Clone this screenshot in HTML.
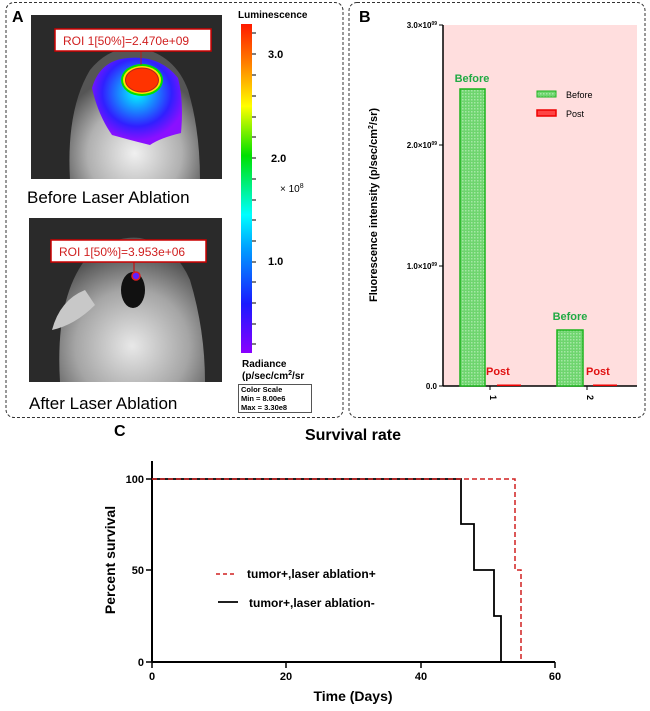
<!DOCTYPE html>
<html><head><style>body{margin:0;background:#fff}svg{display:block}text{font-family:"Liberation Sans",Arial,sans-serif}</style></head><body>
<svg width="650" height="711" viewBox="0 0 650 711" xmlns="http://www.w3.org/2000/svg">
<defs>
<linearGradient id="cb" x1="0" y1="1" x2="0" y2="0">
<stop offset="0" stop-color="#8a00ff"/><stop offset="0.15" stop-color="#1a1aff"/><stop offset="0.32" stop-color="#00a0ff"/><stop offset="0.42" stop-color="#00ffff"/><stop offset="0.6" stop-color="#00e000"/><stop offset="0.75" stop-color="#ffff00"/><stop offset="0.88" stop-color="#ff8000"/><stop offset="1" stop-color="#ff1a00"/></linearGradient>
<radialGradient id="m1" cx="0.5" cy="0.8" r="0.6"><stop offset="0" stop-color="#f0f0f0"/><stop offset="0.6" stop-color="#b0b0b0"/><stop offset="1" stop-color="#555"/></radialGradient>
<radialGradient id="m2" cx="0.5" cy="0.75" r="0.65"><stop offset="0" stop-color="#e8e8e8"/><stop offset="0.6" stop-color="#a5a5a5"/><stop offset="1" stop-color="#555"/></radialGradient>
<radialGradient id="hm" cx="0.5" cy="0.4" r="0.55"><stop offset="0" stop-color="#00ffff"/><stop offset="0.4" stop-color="#1a80ff"/><stop offset="0.7" stop-color="#3020ff"/><stop offset="1" stop-color="#8a10ff"/></radialGradient>
<pattern id="gp" width="3" height="3" patternUnits="userSpaceOnUse"><rect width="3" height="3" fill="#6fd56f"/><rect width="1.5" height="1.5" fill="#a5e8a5"/></pattern>
<clipPath id="c1"><rect x="31" y="15" width="191" height="164"/></clipPath>
<clipPath id="c2"><rect x="29" y="218" width="193" height="164"/></clipPath>
</defs>
<!-- Panel A -->
<rect x="6" y="2.5" width="337" height="415" rx="8" fill="#fff" stroke="#333" stroke-dasharray="3,2"/>
<text x="12" y="22" font-size="16" font-weight="bold">A</text>
<rect x="31" y="15" width="191" height="164" fill="#2a2a2a"/>
<g clip-path="url(#c1)">
<path d="M70 180 Q66 110 90 70 Q110 45 140 48 Q175 55 188 90 Q200 130 200 180Z" fill="url(#m1)"/>
<path d="M92 88 Q100 60 128 58 Q160 55 178 78 Q184 100 181 133 Q160 138 150 145 Q130 140 112 135 Q98 115 92 88Z" fill="url(#hm)"/>
<ellipse cx="142" cy="80" rx="21" ry="16" fill="#00e000"/>
<ellipse cx="142" cy="80" rx="19" ry="14" fill="#ffe000"/>
<ellipse cx="142" cy="80" rx="16.5" ry="12" fill="#ff3300" stroke="#b02020" stroke-width="1"/>
</g>
<line x1="141" y1="51" x2="141" y2="65" stroke="#b02020"/>
<rect x="55" y="29" width="156" height="22" fill="#fff" stroke="#c00" stroke-width="1.5"/>
<text x="63" y="45" font-size="12" fill="#d02020">ROI 1[50%]=2.470e+09</text>
<text x="27" y="203" font-size="17">Before Laser Ablation</text>
<rect x="29" y="218" width="193" height="164" fill="#2a2a2a"/>
<g clip-path="url(#c2)">
<path d="M60 382 Q55 300 85 260 Q110 235 140 238 Q175 245 190 280 Q205 330 205 382Z" fill="url(#m2)"/>
<path d="M85 290 Q60 300 52 330 Q75 325 95 305Z" fill="#c8c8c8"/>
<ellipse cx="133" cy="290" rx="12" ry="18" fill="#111"/>
<circle cx="136" cy="276" r="4" fill="#6020ff" stroke="#e02020" stroke-width="1.5"/>
</g>
<line x1="134" y1="262" x2="134" y2="272" stroke="#c00"/>
<rect x="51" y="240" width="155" height="22" fill="#fff" stroke="#c00" stroke-width="1.5"/>
<text x="59" y="256" font-size="12" fill="#d02020">ROI 1[50%]=3.953e+06</text>
<text x="29" y="409" font-size="17">After Laser Ablation</text>
<text x="238" y="18" font-size="10" font-weight="bold">Luminescence</text>
<rect x="241" y="24" width="11" height="329" fill="url(#cb)"/>
<g stroke="#000" stroke-width="1">
<line x1="252" y1="33" x2="256" y2="33"/><line x1="252" y1="54" x2="256" y2="54"/><line x1="252" y1="75" x2="256" y2="75"/><line x1="252" y1="96" x2="256" y2="96"/><line x1="252" y1="117" x2="256" y2="117"/><line x1="252" y1="137" x2="256" y2="137"/><line x1="252" y1="158" x2="256" y2="158"/><line x1="252" y1="179" x2="256" y2="179"/><line x1="252" y1="200" x2="256" y2="200"/><line x1="252" y1="220" x2="256" y2="220"/><line x1="252" y1="241" x2="256" y2="241"/><line x1="252" y1="262" x2="256" y2="262"/><line x1="252" y1="282" x2="256" y2="282"/><line x1="252" y1="303" x2="256" y2="303"/><line x1="252" y1="324" x2="256" y2="324"/><line x1="252" y1="344" x2="256" y2="344"/></g>
<text x="268" y="58" font-size="11" font-weight="bold">3.0</text>
<text x="271" y="162" font-size="11" font-weight="bold">2.0</text>
<text x="280" y="192" font-size="10" font-family="Liberation Serif,serif">× 10<tspan font-size="7" dy="-4">8</tspan></text>
<text x="268" y="265" font-size="11" font-weight="bold">1.0</text>
<text x="242" y="367" font-size="10" font-weight="bold">Radiance</text>
<text x="242" y="379" font-size="10" font-weight="bold">(p/sec/cm<tspan font-size="7" dy="-4">2</tspan><tspan dy="4">/sr</tspan></text>
<rect x="238.5" y="384.5" width="73" height="28" fill="#fff" stroke="#555"/>
<text x="241" y="392" font-size="7.5" font-weight="bold">Color Scale</text>
<text x="241" y="401" font-size="7.5" font-weight="bold">Min = 8.00e6</text>
<text x="241" y="410" font-size="7.5" font-weight="bold">Max = 3.30e8</text>
<!-- Panel B -->
<rect x="349" y="2.5" width="296" height="415" rx="8" fill="#fff" stroke="#333" stroke-dasharray="3,2"/>
<text x="359" y="22" font-size="16" font-weight="bold">B</text>
<rect x="443" y="25" width="194" height="361" fill="#ffdede"/>
<line x1="443" y1="25" x2="443" y2="386" stroke="#000" stroke-width="1.5"/>
<line x1="443" y1="386" x2="637" y2="386" stroke="#000" stroke-width="1.5"/>
<g stroke="#000"><line x1="439" y1="25" x2="443" y2="25"/><line x1="439" y1="145" x2="443" y2="145"/><line x1="439" y1="266" x2="443" y2="266"/><line x1="439" y1="386" x2="443" y2="386"/><line x1="490" y1="386" x2="490" y2="390"/><line x1="587" y1="386" x2="587" y2="390"/></g>
<g font-size="8" font-weight="bold" text-anchor="end"><text x="437" y="28">3.0×10<tspan font-size="5" dy="-3">09</tspan></text><text x="437" y="148">2.0×10<tspan font-size="5" dy="-3">09</tspan></text><text x="437" y="269">1.0×10<tspan font-size="5" dy="-3">09</tspan></text><text x="437" y="389">0.0</text></g>
<text transform="translate(377,205) rotate(-90)" font-size="11" font-weight="bold" text-anchor="middle">Fluorescence intensity (p/sec/cm<tspan font-size="7" dy="-4">2</tspan><tspan dy="4">/sr)</tspan></text>
<rect x="460" y="89" width="25" height="297" fill="url(#gp)" stroke="#1db31d" stroke-width="1.5"/>
<rect x="557" y="330" width="26" height="56" fill="url(#gp)" stroke="#1db31d" stroke-width="1.5"/>
<rect x="497" y="384.5" width="24" height="1.5" fill="#e00"/><rect x="593" y="384.5" width="24" height="1.5" fill="#e00"/>
<text x="472" y="82" font-size="11" font-weight="bold" fill="#22aa44" text-anchor="middle">Before</text>
<text x="570" y="320" font-size="11" font-weight="bold" fill="#22aa44" text-anchor="middle">Before</text>
<text x="486" y="375" font-size="11" font-weight="bold" fill="#e01010">Post</text>
<text x="586" y="375" font-size="11" font-weight="bold" fill="#e01010">Post</text>
<rect x="537" y="91" width="19" height="6" fill="url(#gp)" stroke="#1db31d"/>
<rect x="537" y="110" width="19" height="6" fill="#f44" stroke="#e00" stroke-width="1.5"/>
<text x="566" y="98" font-size="9">Before</text><text x="566" y="117" font-size="9">Post</text>
<text transform="translate(490,395) rotate(90)" font-size="9" font-weight="bold">1</text>
<text transform="translate(587,395) rotate(90)" font-size="9" font-weight="bold">2</text>
<!-- Panel C -->
<text x="114" y="436" font-size="16" font-weight="bold">C</text>
<text x="353" y="440" font-size="16" font-weight="bold" text-anchor="middle">Survival rate</text>
<line x1="152" y1="461" x2="152" y2="662" stroke="#000" stroke-width="2"/>
<line x1="152" y1="662" x2="555" y2="662" stroke="#000" stroke-width="2"/>
<g stroke="#000" stroke-width="1.5"><line x1="146" y1="479" x2="152" y2="479"/><line x1="146" y1="570" x2="152" y2="570"/><line x1="146" y1="662" x2="152" y2="662"/><line x1="152" y1="662" x2="152" y2="668"/><line x1="286" y1="662" x2="286" y2="668"/><line x1="421" y1="662" x2="421" y2="668"/><line x1="555" y1="662" x2="555" y2="668"/></g>
<g font-size="11" font-weight="bold"><text x="144" y="483" text-anchor="end">100</text><text x="144" y="574" text-anchor="end">50</text><text x="144" y="666" text-anchor="end">0</text>
<text x="152" y="680" text-anchor="middle">0</text><text x="286" y="680" text-anchor="middle">20</text><text x="421" y="680" text-anchor="middle">40</text><text x="555" y="680" text-anchor="middle">60</text></g>
<text x="353" y="701" font-size="14" font-weight="bold" text-anchor="middle">Time (Days)</text>
<text transform="translate(115,560) rotate(-90)" font-size="14" font-weight="bold" text-anchor="middle">Percent survival</text>
<path d="M152 479 H461 V524 H474 V570 H494 V616 H501 V662" fill="none" stroke="#000" stroke-width="1.8"/>
<path d="M152 479 H515 V570 H521 V662" fill="none" stroke="#d02020" stroke-width="1.5" stroke-dasharray="5,3"/>
<line x1="216" y1="574" x2="236" y2="574" stroke="#d02020" stroke-width="1.5" stroke-dasharray="4,3"/>
<line x1="218" y1="602" x2="238" y2="602" stroke="#000" stroke-width="1.8"/>
<text x="247" y="578" font-size="12" font-weight="bold">tumor+,laser ablation+</text>
<text x="249" y="607" font-size="12" font-weight="bold">tumor+,laser ablation-</text>
</svg>
</body></html>
